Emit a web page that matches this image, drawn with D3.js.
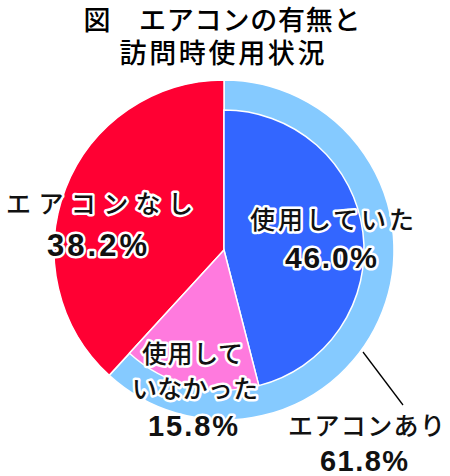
<!DOCTYPE html>
<html><head><meta charset="utf-8">
<script src="https://cdn.jsdelivr.net/npm/d3@7"></script>
<style>body{margin:0;background:#fff}</style>
</head><body>
<svg id="c" width="450" height="476"></svg>
<script>
const titleLines = ["図\u3000エアコンの有無と", "訪問時使用状況"];
const outerCats = ["エアコンあり", "エアコンなし"];
const outerVals = [61.8, 38.2];
const innerCats = ["使用していた", "使用していなかった", "エアコンなし"];
const innerVals = [46.0, 15.8, 38.2];
const colors = {"エアコンあり":"#85caff","エアコンなし":"#ff0033","使用していた":"#3366ff","使用していなかった":"#ff7ade"};

const svg = d3.select("#c");
const cx = 224, cy = 250, R = 170, r = 140;
const jp = "'Noto Sans CJK JP','Noto Sans',sans-serif";
const num = "'Liberation Sans',Arial,sans-serif";

// title
svg.selectAll("text.title").data(titleLines).join("text")
  .attr("class","title")
  .attr("x", 222).attr("y", (d,i)=> 30 + i*33)
  .attr("text-anchor","middle")
  .attr("font-family", jp).attr("font-weight", 500).attr("font-size", 27)
  .attr("textLength", (d,i)=> i===0 ? 277 : 205)
  .text(d=>d);

const g = svg.append("g").attr("transform", `translate(${cx},${cy})`);
const pie = d3.pie().sort(null).value(d=>d);

const outer = pie(outerVals);
g.selectAll("path.outer").data(outer).join("path")
  .attr("d", d3.arc().innerRadius(0).outerRadius(R))
  .attr("fill", (d,i)=> colors[outerCats[i]])
  .attr("stroke","#fff").attr("stroke-width",1.5);

const inner = pie(innerVals).slice(0,2);
g.selectAll("path.inner").data(inner).join("path")
  .attr("d", d3.arc().innerRadius(0).outerRadius(r))
  .attr("fill", (d,i)=> colors[innerCats[i]])
  .attr("stroke","#fff").attr("stroke-width",1.5);

// leader line
svg.append("line").attr("x1",363).attr("y1",352).attr("x2",403).attr("y2",405)
  .attr("stroke","#000").attr("stroke-width",1.3);

const labels = [
  {t:"エアコンなし", x:6, y:213, w:187, f:jp, s:25, fw:500},
  {t:outerVals[1].toFixed(1)+"%", x:47, y:256, w:100, f:num, s:31, fw:700},
  {t:"使用していた", x:250, y:229, w:164, f:jp, s:25, fw:500},
  {t:innerVals[0].toFixed(1)+"%", x:285, y:268, w:92, f:num, s:30, fw:700},
  {t:"使用して", x:142, y:363, w:101, f:jp, s:25, fw:500},
  {t:"いなかった", x:132, y:398, w:126, f:jp, s:25, fw:500},
  {t:innerVals[1].toFixed(1)+"%", x:148, y:436, w:90, f:num, s:29, fw:700},
  {t:"エアコンあり", x:288, y:435, w:157, f:jp, s:25, fw:500},
  {t:outerVals[0].toFixed(1)+"%", x:320, y:471, w:88, f:num, s:29, fw:700}
];
svg.selectAll("text.lab").data(labels).join("text")
  .attr("class","lab")
  .attr("x", d=>d.x).attr("y", d=>d.y)
  .attr("font-family", d=>d.f).attr("font-size", d=>d.s).attr("font-weight", d=>d.fw)
  .attr("textLength", d=>d.w).attr("lengthAdjust","spacing")
  .attr("stroke","#fff").attr("stroke-width",5).attr("stroke-linejoin","round")
  .attr("paint-order","stroke").attr("fill","#111")
  .text(d=>d.t);
</script>
</body></html>
